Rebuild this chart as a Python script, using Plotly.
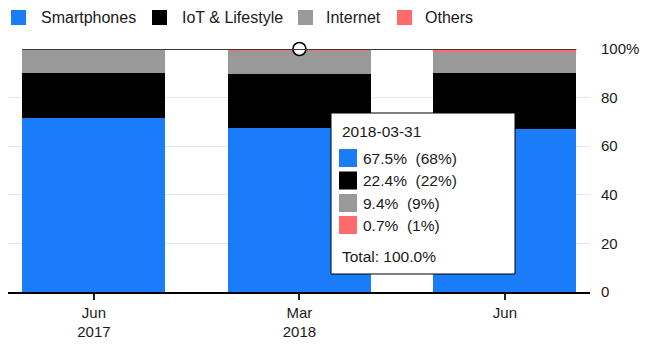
import plotly.graph_objects as go

# ---------------- data ----------------
dates = ["2017-06-30", "2018-03-31", "2018-06-30"]
tick_labels = ["Jun<br>2017", "Mar<br>2018", "Jun"]
series_names = ["Smartphones", "IoT & Lifestyle", "Internet", "Others"]
smartphones = [71.6, 67.5, 67.1]
iot_lifestyle = [18.4, 22.4, 22.9]
internet = [9.7, 9.4, 8.8]
others = [0.3, 0.7, 1.2]
y_ticks = [0, 20, 40, 60, 80, 100]
y_tick_labels = ["0", "20", "40", "60", "80", "100%"]
hover_date = "2018-03-31"

# ---------------- style ----------------
colors = ["#1b7cfa", "#000000", "#999999", "#ff6b6b"]
FONT = "Liberation Sans, Arial, Helvetica, sans-serif"
TXT = "#1a1a1a"
W, H = 660, 350
ML, MR, MT, MB = 8, 70, 49, 58
PW, PH = W - ML - MR, H - MT - MB
BAR_W = 0.696


def px(xpix):
    return (xpix - ML) / PW


def py(ypix):
    return (H - MB - ypix) / PH


series = [smartphones, iot_lifestyle, internet, others]
fig = go.Figure()
for name, vals, col in zip(series_names, series, colors):
    fig.add_trace(go.Bar(x=dates, y=vals, name=name, marker_color=col,
                         marker_line_width=0, width=BAR_W, showlegend=False,
                         hoverinfo="skip"))

hi = dates.index(hover_date)
total = sum(s[hi] for s in series)
fig.add_trace(go.Scatter(x=[hover_date], y=[total], mode="markers",
                         marker=dict(size=13, color="white",
                                     line=dict(color="black", width=1.6)),
                         cliponaxis=False, showlegend=False, hoverinfo="skip"))

shapes = []
annotations = []
# horizontal crosshair at total
shapes.append(dict(type="line", xref="x", yref="y", x0=-BAR_W / 2,
                   x1=len(dates) - 1 + BAR_W / 2, y0=total, y1=total,
                   line=dict(color="#3a3a3a", width=2), layer="above"))

# custom legend
sq_left = [11, 152, 298, 397]
txt_left = [38.5, 179.5, 324, 422.5]
for name, col, sx, tx in zip(series_names, colors, sq_left, txt_left):
    shapes.append(dict(type="rect", xref="paper", yref="paper",
                       x0=px(sx), x1=px(sx + 15), y0=py(25), y1=py(10),
                       fillcolor=col, line_width=0))
    annotations.append(dict(text=name, xref="paper", yref="paper",
                            x=px(tx), y=py(17.5), xanchor="left", yanchor="middle",
                            showarrow=False, font=dict(size=16, color=TXT, family=FONT)))

# tooltip box
bx0, bx1, by0, by1 = 331, 515, 113, 274
shapes.append(dict(type="rect", xref="paper", yref="paper",
                   x0=px(bx0), x1=px(bx1), y0=py(by1), y1=py(by0),
                   fillcolor="white", line=dict(color="black", width=1), layer="above"))
annotations.append(dict(text=hover_date, xref="paper", yref="paper",
                        x=px(340), y=py(131), xanchor="left", yanchor="middle",
                        showarrow=False, font=dict(size=15.5, color=TXT, family=FONT)))
row_y = [158, 180.5, 203, 225]
for s, col, ry in zip(series, colors, row_y):
    v = s[hi]
    shapes.append(dict(type="rect", xref="paper", yref="paper",
                       x0=px(339), x1=px(357), y0=py(ry + 9), y1=py(ry - 9),
                       fillcolor=col, line_width=0, layer="above"))
    annotations.append(dict(text=f"{v:.1f}%  ({round(v):d}%)", xref="paper", yref="paper",
                            x=px(361), y=py(ry), xanchor="left", yanchor="middle",
                            showarrow=False, font=dict(size=15.5, color=TXT, family=FONT)))
annotations.append(dict(text=f"Total: {total:.1f}%", xref="paper", yref="paper",
                        x=px(340), y=py(256), xanchor="left", yanchor="middle",
                        showarrow=False, font=dict(size=15.5, color=TXT, family=FONT)))

fig.update_layout(
    width=W, height=H, margin=dict(l=ML, r=MR, t=MT, b=MB, autoexpand=False),
    barmode="stack", bargap=0, plot_bgcolor="white", paper_bgcolor="white",
    font=dict(family=FONT, size=15, color=TXT),
    shapes=shapes, annotations=annotations, showlegend=False,
    xaxis=dict(type="category", range=[-0.418, len(dates) - 1 + 0.414],
               tickvals=dates, ticktext=tick_labels, showgrid=False,
               showline=True, linecolor="black", linewidth=1.5,
               ticks="outside", ticklen=6, tickwidth=1.5, tickcolor="#222",
               tickfont=dict(size=15, color=TXT, family=FONT), fixedrange=True),
    yaxis=dict(side="right", range=[0, 100], tickvals=y_ticks, ticktext=y_tick_labels,
               showgrid=True, gridcolor="#e6e6e6", gridwidth=1, zeroline=False,
               showline=False, ticks="", ticklabelstandoff=10,
               tickfont=dict(size=15, color=TXT, family=FONT), fixedrange=True),
)

fig.write_html("out.html", config={"displayModeBar": False})
